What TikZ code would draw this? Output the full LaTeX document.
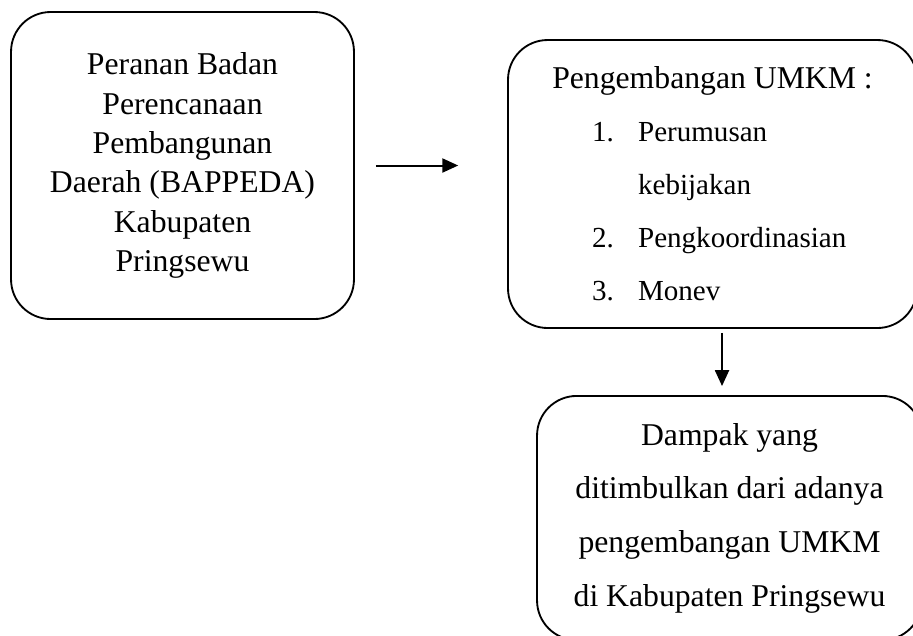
\documentclass[tikz,border=0pt]{standalone}
\usepackage{fontspec}
\setmainfont{Liberation Serif}
\usetikzlibrary{arrows.meta}
\tikzset{
  kotak/.style={draw, line width=0.7pt, rounded corners=15pt, inner sep=0pt},
  panah/.style={-{Triangle[length=6pt,width=5.3pt]}, line width=0.75pt}
}
\newcommand{\butir}[2]{\hspace*{15.1pt}\makebox[17.4pt][l]{\fontsize{11}{20}\selectfont #1}{\fontsize{11}{20}\selectfont #2}}

\begin{document}
\begin{tikzpicture}[x=0.3785pt, y=-0.3785pt]
    % Batas gambar
    \useasboundingbox (0,0) rectangle (913,635);
    \clip (0,0) rectangle (913,635);
    % Kotak kiri
    \node[kotak, minimum width=129.8pt, minimum height=116.2pt, align=center, font=\fontsize{12}{14.9}\selectfont] (bappeda) at (182.5,165.5) {Peranan Badan\\ Perencanaan\\ Pembangunan\\ Daerah (BAPPEDA)\\ Kabupaten\\ Pringsewu};
    % Kotak kanan atas
    \node[kotak, minimum width=154.8pt, minimum height=109pt, font=\fontsize{12}{20}\selectfont] (umkm) at (712.5,184) {\begin{tabular}{@{}l@{}}
        Pengembangan UMKM :\\
        \butir{1.}{Perumusan}\\
        \hspace*{32.5pt}{\fontsize{11}{20}\selectfont kebijakan}\\
        \butir{2.}{Pengkoordinasian}\\
        \butir{3.}{Monev}
    \end{tabular}};
    % Kotak kanan bawah
    \node[kotak, minimum width=145.7pt, minimum height=92.4pt, align=center, font=\fontsize{12}{20.3}\selectfont] (dampak) at (729.5,518) {Dampak yang\\ ditimbulkan dari adanya\\ pengembangan UMKM\\ di Kabupaten Pringsewu};
    % Panah
    \draw[panah, shorten <=7.9pt, shorten >=18.5pt] (bappeda.east) -- (bappeda.east -| umkm.west);
    \draw[panah, shorten <=1.5pt, shorten >=3.4pt] ([xshift=3.6pt]umkm.south) -- ([xshift=3.6pt]umkm.south |- dampak.north);
\end{tikzpicture}
\end{document}
